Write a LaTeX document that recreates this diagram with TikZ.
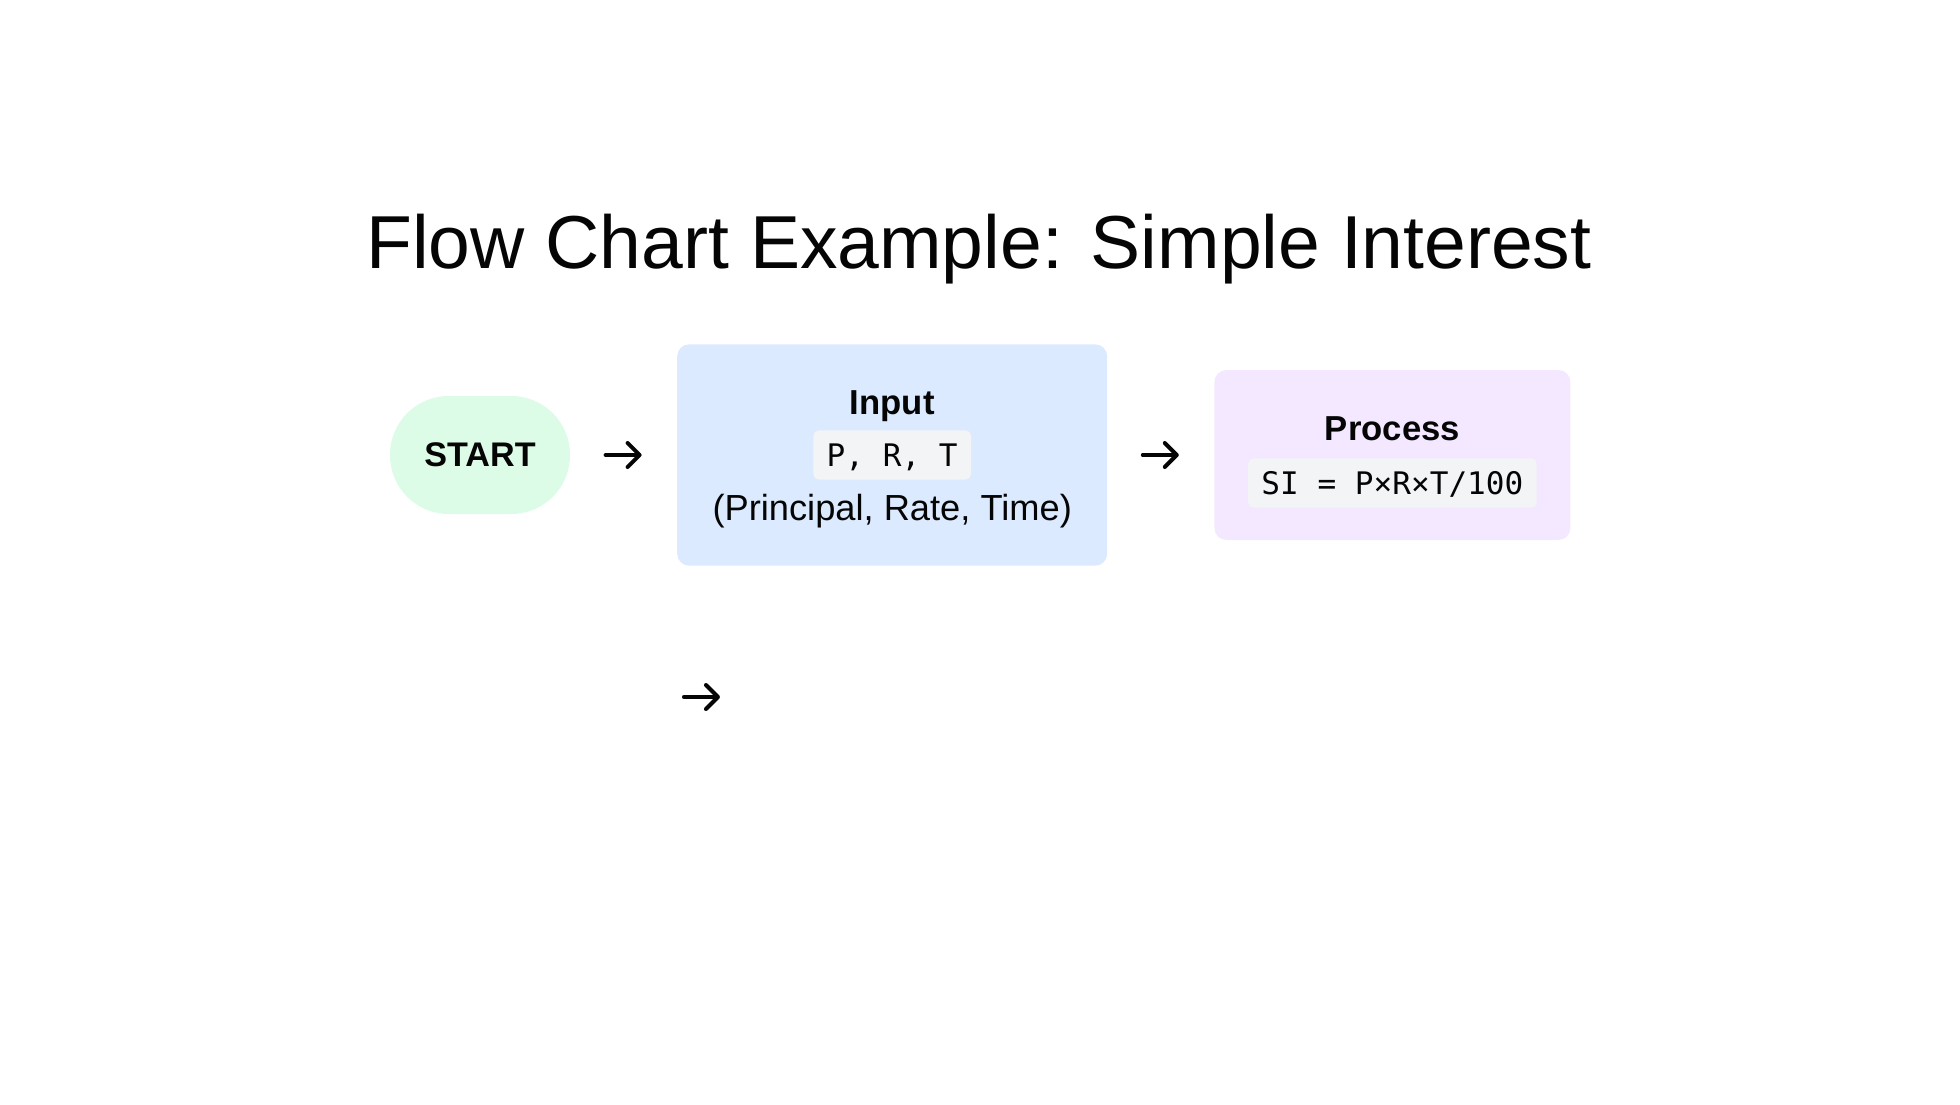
\documentclass[tikz,border=0pt]{standalone}
\usepackage{fontspec}
\setmainfont{Liberation Sans}
\setmonofont{DejaVu Sans Mono}
\usetikzlibrary{arrows.meta, positioning, calc}
\definecolor{ink}{HTML}{050505}
\definecolor{startfill}{HTML}{DCFCE7}
\definecolor{inputfill}{HTML}{DBEAFE}
\definecolor{procfill}{HTML}{F3E8FF}
\definecolor{codefill}{HTML}{F3F4F6}

\begin{document}
\begin{tikzpicture}[
  x=0.75pt, y=-0.75pt,
  node distance=5mm and 80pt,
  term/.style={fill=startfill, rounded corners=44pt, minimum width=135pt,
               minimum height=88.5pt, text=ink, font=\fontsize{25.6}{30}\selectfont\bfseries},
  box/.style={rounded corners=9pt, minimum width=322.5pt, minimum height=166pt, inner sep=0pt},
  head/.style={anchor=base, inner sep=0pt, text=ink, font=\fontsize{26}{30}\selectfont\bfseries},
  body/.style={anchor=base, inner sep=0pt, text=ink, font=\fontsize{27.2}{32}\selectfont},
  code/.style={fill=codefill, rounded corners=4pt, text=ink, font=\fontsize{23.3}{28}\selectfont\ttfamily,
               inner xsep=10pt, inner ysep=10pt, text height=17pt, text depth=0pt},
  arr/.style={-{Straight Barb[length=9pt, width=18pt, line cap=round, line join=round]},
              line width=3pt, line cap=round, draw=ink}
]
\useasboundingbox (0,0) rectangle (1960,1104);
\node[anchor=base, text=ink, font=\fontsize{56.3}{68}\selectfont] (title) at (979,268)
  {Flow Chart Example: Simple Interest};
\node[term] (start) at (480,455) {START};
\node[box, fill=inputfill, right=of start] (input) {};
\node[box, fill=procfill, minimum width=267pt, minimum height=127.5pt, right=of input] (process) {};
% input contents
\node[head] (inputhead) at ($(input.center)+(0,-41)$) {Input};
\node[code] (inputcode) at (input.center) {P, R, T};
\node[body] (inputtext) at ($(input.center)+(0,65)$) {(Principal, Rate, Time)};
% process contents
\node[head] (processhead) at ($(process.center)+(0,-15)$) {Process};
\node[code] (processcode) at ($(process.center)+(0,28)$) {SI = P×R×T/100};
% arrows
\coordinate (gapA) at ($(start.east)!0.5!(input.west)$);
\coordinate (gapB) at ($(input.east)!0.5!(process.west)$);
\coordinate (gapC) at ($(input.west)+(25,242)$);
\draw[arr] ([xshift=-13.5pt]gapA) -- ([xshift=13.5pt]gapA);
\draw[arr] ([xshift=-13.5pt]gapB) -- ([xshift=13.5pt]gapB);
\draw[arr] ([xshift=-13.5pt]gapC) -- ([xshift=13.5pt]gapC);
\end{tikzpicture}
\end{document}
